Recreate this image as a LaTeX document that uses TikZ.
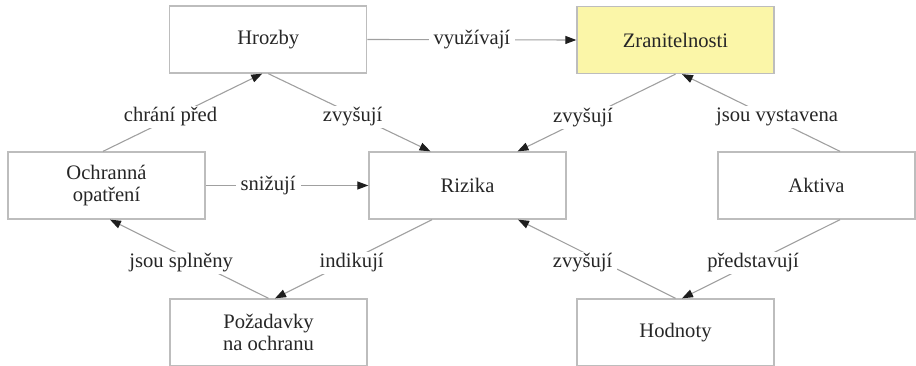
\documentclass[tikz,border=0pt]{standalone}
\usepackage{fontspec}
\setmainfont{Liberation Serif}
\usetikzlibrary{arrows.meta}
\definecolor{boxline}{HTML}{BDBDBD}
\definecolor{connline}{HTML}{A0A0A0}
\definecolor{tipcol}{HTML}{1E1E1E}
\definecolor{txtcol}{HTML}{262626}
\definecolor{yel}{HTML}{FBF6A8}
\tikzset{
  box/.style={draw=boxline, line width=1.3pt, minimum width=197pt, minimum height=67pt,
    inner sep=0pt, align=center, text=txtcol, font=\fontsize{20.6}{22.5}\selectfont},
  conn/.style={draw=connline, line width=1.1pt, -{Triangle[length=11pt,width=8pt,color=tipcol,fill=tipcol]}},
  lab/.style={fill=white, inner xsep=5pt, inner ysep=2pt, text=txtcol, font=\fontsize{20.6}{22.5}\selectfont}
}
\begin{document}
\begin{tikzpicture}[x=1pt,y=-1pt]
\useasboundingbox (0,0) rectangle (916,366);
\node[box] (hrozby) at (268.25,39.5) {Hrozby};
\node[box, fill=yel] (zran) at (675.5,40) {Zranitelnosti};
\node[box] (ochr) at (106.5,185.5) {Ochranná\\opatření};
\node[box] (riz) at (467.5,185.5) {Rizika};
\node[box] (akt) at (816.5,185.5) {Aktiva};
\node[box] (poz) at (268.5,332.5) {Požadavky\\na ochranu};
\node[box] (hod) at (675.5,332.5) {Hodnoty};

\draw[conn] (hrozby.east) -- (zran.west) node[lab,pos=0.5] {využívají};
\draw[conn] ([xshift=-3.5pt]ochr.north) -- ([xshift=-6pt]hrozby.south) node[lab,pos=0.443,xshift=-3pt] {chrání před};
\draw[conn] (hrozby.south) -- ([xshift=-37pt]riz.north) node[lab,pos=0.557,xshift=-6pt] {zvyšují};
\draw[conn] (zran.south) -- ([xshift=50pt]riz.north) node[lab,pos=0.557,xshift=-4.5pt] {zvyšují};
\draw[conn] ([xshift=23.5pt]akt.north) -- ([xshift=6.5pt]zran.south) node[lab,pos=0.443,xshift=7pt] {jsou vystavena};
\draw[conn] (ochr.east) -- (riz.west) node[lab,pos=0.384] {snižují};
\draw[conn] (poz.north) -- ([xshift=3.5pt]ochr.south) node[lab,pos=0.45,xshift=-16pt] {jsou splněny};
\draw[conn] ([xshift=-35.5pt]riz.south) -- ([xshift=6.5pt]poz.north) node[lab,pos=0.55,xshift=6pt] {indikují};
\draw[conn] (hod.north) -- ([xshift=50.5pt]riz.south) node[lab,pos=0.45,xshift=-22pt] {zvyšují};
\draw[conn] ([xshift=23.5pt]akt.south) -- ([xshift=6.5pt]hod.north) node[lab,pos=0.55] {představují};
\end{tikzpicture}
\end{document}
